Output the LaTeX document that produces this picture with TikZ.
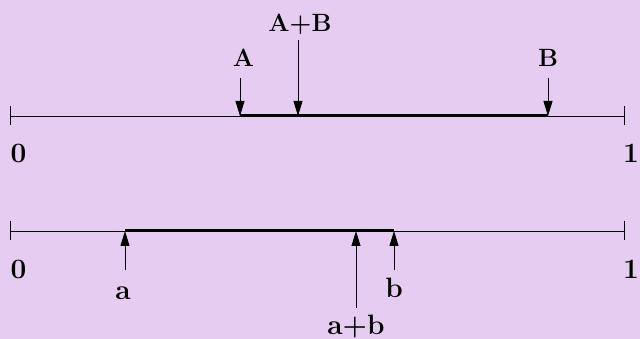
\documentclass[tikz,border=0pt]{standalone}
\usepackage{fontspec}
\usepackage{tikz}
\usetikzlibrary{arrows.meta,positioning}
\definecolor{lilac}{RGB}{230,204,241}
\tikzset{
  lab/.style={anchor=base, inner sep=0pt, font=\fontsize{25}{29}\selectfont\bfseries},
  big/.style={lab, font=\fontsize{28}{32}\selectfont\bfseries},
  axis/.style={line width=0.9pt},
  seg/.style={line width=3pt},
  arr/.style={-{Triangle[length=15pt,width=9pt]}, line width=0.9pt}}

\begin{document}
\begin{tikzpicture}[x=1pt,y=-1pt]
  \fill[lilac] (0,0) rectangle (640,339);
  \useasboundingbox (0,0) rectangle (640,339);
  % upper line
  \coordinate (u0) at (10,116);
  \coordinate (u1) at (624,116);
  \coordinate (pA) at (240,116);
  \coordinate (pAB) at (298,116);
  \coordinate (pB) at (548,116);
  \draw[axis] (u0) -- (u1);
  \draw[axis] ([yshift=-9]u0) -- ([yshift=10]u0);
  \draw[axis] ([yshift=-9]u1) -- ([yshift=10]u1);
  \draw[seg] (pA) -- (pB);
  \node[lab] (lA) at (243.5,67) {A};
  \node[lab] (lAB) at (300,32) {A+B};
  \node[lab] (lB) at (548,67) {B};
  \node[big] (l0u) at (18.5,163) {0};
  \node[big] (l1u) at (631,163) {1};
  \coordinate (tA) at (240,78);
  \coordinate (tAB) at (298,40);
  \coordinate (tB) at (548,78);
  \draw[arr] (tA) -- (pA);
  \draw[arr] (tAB) -- (pAB);
  \draw[arr] (tB) -- (pB);
  % lower line
  \coordinate (d0) at (10,231);
  \coordinate (d1) at (624,231);
  \coordinate (pa) at (125,231);
  \coordinate (pab) at (356,231);
  \coordinate (pb) at (394,231);
  \draw[axis] (d0) -- (d1);
  \draw[axis] ([yshift=-9]d0) -- ([yshift=10]d0);
  \draw[axis] ([yshift=-9]d1) -- ([yshift=10]d1);
  \draw[seg] (pa) -- (pb);
  \node[big] (la) at (123,299) {a};
  \node[big] (lb) at (394,298) {b};
  \node[big] (lab) at (356,334) {a+b};
  \node[big] (l0d) at (18.5,279) {0};
  \node[big] (l1d) at (631,278) {1};
  \coordinate (ta) at (125,270);
  \coordinate (tb) at (394,270);
  \coordinate (tab) at (356,308);
  \draw[arr] (ta) -- (pa);
  \draw[arr] (tb) -- (pb);
  \draw[arr] (tab) -- (pab);
\end{tikzpicture}
\end{document}
